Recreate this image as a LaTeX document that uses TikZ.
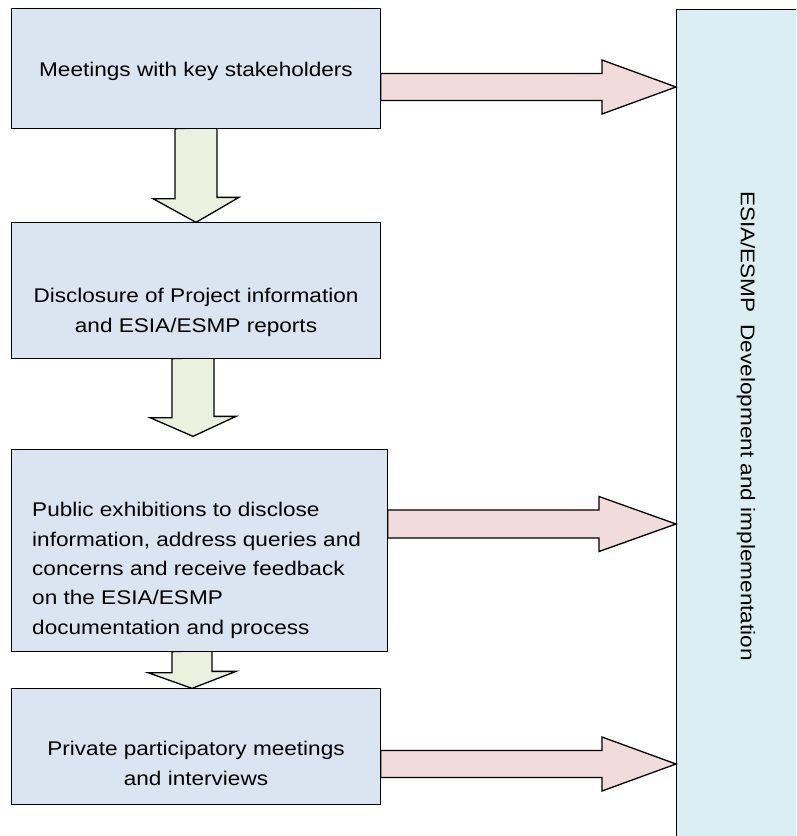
\documentclass[tikz,border=0pt]{standalone}
\usepackage{fontspec}
\setmainfont{Liberation Sans}[FakeStretch=1.14]
\usetikzlibrary{calc}
\definecolor{boxfill}{HTML}{DBE5F1}
\definecolor{sidefill}{HTML}{DAEEF3}
\definecolor{pinkfill}{HTML}{F2DCDB}
\definecolor{greenfill}{HTML}{EBF1DE}
\begin{document}
\begin{tikzpicture}[x=1pt,y=-1pt,
  box/.style={draw=black, fill=boxfill, line width=1.3pt, rectangle, inner sep=0pt},
  sidebox/.style={draw=black, fill=sidefill, line width=1.3pt, rectangle, inner sep=0pt},
  txt/.style={inner sep=0pt, font=\fontsize{19.8}{29.3}\selectfont, align=center},
  rarrow/.style={draw=black, fill=pinkfill, line width=1.3pt},
  darrow/.style={draw=black, fill=greenfill, line width=1.3pt}]
\useasboundingbox (0,0) rectangle (796,836);
\clip (0,0) rectangle (796,836);
% side box
\node[sidebox, anchor=north west, minimum width=160pt, minimum height=880pt] (R) at (676,9) {};
% left boxes (placed first as nodes, drawn over arrows below)
\path (196,68.5) node[box, minimum width=368pt, minimum height=119pt, draw=none, fill=none] (b1) {};
\path (196,290.5) node[box, minimum width=368pt, minimum height=135pt, draw=none, fill=none] (b2) {};
\path (199.5,550.5) node[box, minimum width=375pt, minimum height=201pt, draw=none, fill=none] (b3) {};
\path (196,746.5) node[box, minimum width=368pt, minimum height=115pt, draw=none, fill=none] (b4) {};
% arrow tips
\coordinate (r1tip) at (R.west |- 0,87);
\coordinate (r2tip) at (R.west |- 0,524);
\coordinate (r3tip) at (R.west |- 0,764);
\coordinate (d2tip) at ($(b2.south |- b3.north)+(-3,-13)$);
% right arrows
\path[rarrow] ($(b1.east |- r1tip)+(0,-13.5)$) -- ($(r1tip)+(-74,-13.5)$) -- ($(r1tip)+(-74,-27)$) -- (r1tip)
  -- ($(r1tip)+(-74,27)$) -- ($(r1tip)+(-74,13.5)$) -- ($(b1.east |- r1tip)+(0,13.5)$) -- cycle;
\path[rarrow] ($(b3.east |- r2tip)+(0,-14)$) -- ($(r2tip)+(-77,-14)$) -- ($(r2tip)+(-77,-27.5)$) -- (r2tip)
  -- ($(r2tip)+(-77,27.5)$) -- ($(r2tip)+(-77,14)$) -- ($(b3.east |- r2tip)+(0,14)$) -- cycle;
\path[rarrow] ($(b4.east |- r3tip)+(0,-13.5)$) -- ($(r3tip)+(-74,-13.5)$) -- ($(r3tip)+(-74,-27)$) -- (r3tip)
  -- ($(r3tip)+(-74,27)$) -- ($(r3tip)+(-74,13.5)$) -- ($(b4.east |- r3tip)+(0,13.5)$) -- cycle;
% down arrows
\path[darrow] (b1.south) ++(-21,0) -- ++(0,70) -- ++(-22,0) -- (b2.north) -- ++(43,-25) -- ++(-22,0) -- ++(0,-70) -- cycle;
\path[darrow] (d2tip |- b2.south) ++(-21,0) -- ++(0,59) -- ++(-22,0) -- (d2tip) -- ++(43,-20) -- ++(-22,0) -- ++(0,-59) -- cycle;
\path[darrow] ($(b4.north |- b3.south)+(-4,0)$) ++(-20,0) -- ++(0,21) -- ++(-24,0) -- ($(b4.north)+(-4,0)$) -- ++(44,-17) -- ++(-24,0) -- ++(0,-21) -- cycle;
% boxes drawn on top
\draw[box, fill=boxfill] (b1.north west) rectangle (b1.south east);
\draw[box, fill=boxfill] (b2.north west) rectangle (b2.south east);
\draw[box, fill=boxfill] (b3.north west) rectangle (b3.south east);
\draw[box, fill=boxfill] (b4.north west) rectangle (b4.south east);
% texts
\node[txt] (t1) at (196,70.9) {Meetings with key stakeholders};
\node[txt] (t2) at (196,312.4) {Disclosure of Project information\\and ESIA/ESMP reports};
\node[txt, align=left, anchor=west] (t3) at (32,570.4) {Public exhibitions to disclose\\information, address queries and\\concerns and receive feedback\\on the ESIA/ESMP\\documentation and process};
\node[txt] (t4) at (196,763.3) {Private participatory meetings\\and interviews};
\node[txt, rotate=-90] (tR) at (746,426) {ESIA/ESMP\hspace{0.28em} Development and implementation};
\end{tikzpicture}
\end{document}
